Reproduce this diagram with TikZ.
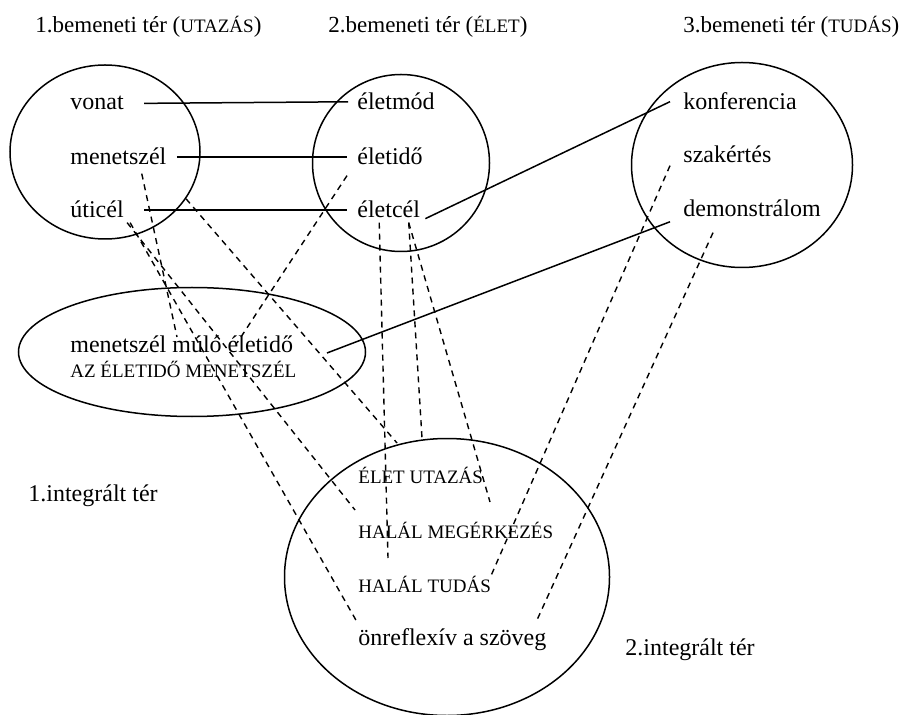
\documentclass[tikz,border=0pt]{standalone}
\usepackage{fontspec}
\setmainfont{Liberation Serif}
\newfontfamily\DiagFont{Liberation Serif}
\usetikzlibrary{shapes.geometric}

\begin{document}
\begin{tikzpicture}[x=0.5pt,y=-0.5pt,
	word/.style={inner sep=0pt, anchor=base west, font=\DiagFont\fontsize{12}{14}\selectfont},
	capword/.style={word, font=\DiagFont\fontsize{9.5}{11}\selectfont},
	headword/.style={word, font=\DiagFont\fontsize{11.5}{14}\selectfont},
	space/.style={draw, ellipse, line width=0.75pt, inner sep=0pt},
	link/.style={line width=0.75pt},
	maplink/.style={line width=0.7pt, dash pattern=on 3pt off 2.5pt}]

%% one unit is one pixel of the 908x715 sheet, y runs downwards
\def\HeadCaps{\fontsize{9.5}{12}\selectfont}

\useasboundingbox (0,0) rectangle (908,715);

%% the spaces
\node[space, minimum width=95pt, minimum height=87pt] (input1) at (105,152) {};
\node[space, minimum width=88.5pt, minimum height=88.5pt] (input2) at (401,163) {};
\node[space, minimum width=110.5pt, minimum height=102.5pt] (input3) at (742,165) {};
\node[space, minimum width=173.5pt, minimum height=64.5pt] (blend1) at (192,352) {};
\node[space, minimum width=162.5pt, minimum height=138.5pt] (blend2) at (447,577) {};

%% titles
\node[headword] (head1) at (35,33) {1.bemeneti tér ({\HeadCaps UTAZÁS})};
\node[headword] (head2) at (328,33) {2.bemeneti tér ({\HeadCaps ÉLET})};
\node[headword] (head3) at (683,33) {3.bemeneti tér ({\HeadCaps TUDÁS})};
\node[word] (integr1) at (28,501) {1.integrált tér};
\node[word] (integr2) at (625,655) {2.integrált tér};

%% words of the input spaces
\node[word] (vonat) at (70,110) {vonat};
\node[word] (menetszel) at (70,165) {menetszél};
\node[word] (uticel) at (70,218) {úticél};
\node[word] (eletmod) at (357,110) {életmód};
\node[word] (eletido) at (357,165) {életidő};
\node[word] (eletcel) at (357,218) {életcél};
\node[word] (konferencia) at (683,110) {konferencia};
\node[word] (szakertes) at (683,163) {szakértés};
\node[word] (demonstralom) at (683,217) {demonstrálom};

%% words of the integrated spaces
\node[word] (blendtext) at (70,352) {menetszél múló életidő};
\node[capword] (blendcaps) at (70,378) {AZ ÉLETIDŐ MENETSZÉL};
\node[capword] (eletutazas) at (358,483) {ÉLET UTAZÁS};
\node[capword] (halalmeg) at (358,538) {HALÁL MEGÉRKEZÉS};
\node[capword] (halaltudas) at (358,592) {HALÁL TUDÁS};
\node[word] (onreflexiv) at (358,645) {önreflexív a szöveg};

%% loose ends of the mappings
\coordinate (mulo) at (177,337);
\coordinate (blendlife) at (237,343);
\coordinate (blendend) at (327,353);
\coordinate (arrive) at (355,510);
\coordinate (selfref) at (357,622);
\coordinate (rimA) at (397,443);
\coordinate (rimB) at (422,438);
\coordinate (between) at (388,558);
\coordinate (journey) at (490,502);
\coordinate (knowing) at (490,578);
\coordinate (selfrefR) at (537,620);

%% solid mappings
\draw[link] ([xshift=10pt]vonat.east) -- ([xshift=-4.5pt]eletmod.west);
\draw[link] ([xshift=5pt]menetszel.east) -- ([xshift=-5pt]eletido.west);
\draw[link] ([xshift=10pt]uticel.east) -- ([xshift=-5pt]eletcel.west);
\draw[link] ([xshift=2.5pt]eletcel.south east) -- ([xshift=-6.5pt]konferencia.west);
\draw[link] ([xshift=-6.5pt,yshift=-6.5pt]demonstralom.west) -- (blendend);

%% dashed mappings
\draw[maplink] ([xshift=-12.5pt,yshift=-4pt]menetszel.south east) -- (mulo);
\draw[maplink] ([xshift=1.5pt,yshift=-2pt]uticel.south east) -- (arrive);
\draw[maplink] ([xshift=3pt,yshift=-2pt]uticel.south east) -- (selfref);
\draw[maplink] (input1.-30) -- (rimA);
\draw[maplink] ([xshift=-5pt,yshift=-5pt]eletido.south west) -- (blendlife);
\draw[maplink] ([xshift=-4.75pt,yshift=-2pt]eletcel.south) -- (between);
\draw[maplink] ([xshift=10pt,yshift=-2pt]eletcel.south) -- (rimB);
\draw[maplink] ([xshift=10pt,yshift=-2pt]eletcel.south) -- (journey);
\draw[maplink] ([xshift=-6.5pt,yshift=-1pt]szakertes.south west) -- (knowing);
\draw[maplink] ([xshift=15pt,yshift=-7.5pt]demonstralom.south west) -- (selfrefR);

\end{tikzpicture}
\end{document}
